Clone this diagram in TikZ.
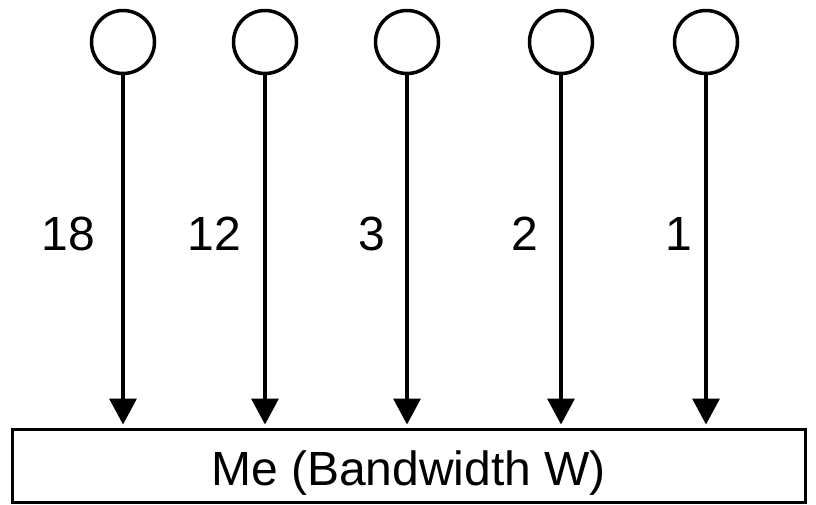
\documentclass[tikz,border=0pt]{standalone}
\usepackage{fontspec}
\setmainfont{Liberation Sans}
\usetikzlibrary{arrows.meta}

\begin{document}
\begin{tikzpicture}[x=1pt,y=-1pt,>={Triangle[width=27pt,length=26pt]},
    font=\fontsize{48}{56}\selectfont,
    peer/.style={draw, circle, line width=3.5pt, minimum size=63pt, inner sep=0pt},
    flow/.style={->, line width=3.5pt, shorten >=3pt}]

  % Frame
  \useasboundingbox (0,0) rectangle (816,504);

  % Receiver
  \node[draw, line width=3pt, minimum width=793pt, inner sep=0pt,
        text height=56pt, text depth=17pt] (me) at (408.5,465.5) {Me (Bandwidth W)};

  % Senders and their rates
  \foreach \x/\rate/\gap [count=\i] in {123/18/26, 265/12/22, 407/3/20, 561/2/21, 706/1/12} {
    \node[peer] (p\i) at (\x,42) {};
    \draw[flow] (p\i) -- (p\i |- me.north)
      node[pos=0.45, left=\gap pt, inner sep=0pt] {\rate};
  }

\end{tikzpicture}
\end{document}
